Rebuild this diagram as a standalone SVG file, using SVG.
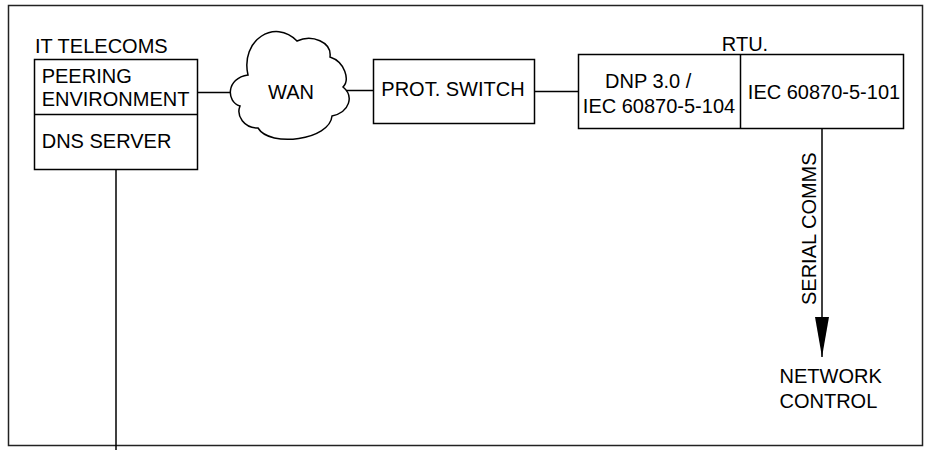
<svg xmlns="http://www.w3.org/2000/svg" width="926" height="450" viewBox="0 0 926 450">
<defs>
<style>
.t{font-family:"Liberation Sans",Arial,sans-serif;font-size:20px;fill:#000}
.b{fill:#fff;stroke:#000;stroke-width:1.5}
.l{fill:none;stroke:#000;stroke-width:1.5}
</style>
<marker id="ah" markerUnits="userSpaceOnUse" markerWidth="40" markerHeight="14" refX="40" refY="7" orient="auto" viewBox="0 0 40 14">
<path d="M0 0 L40 7 L0 14 Z" fill="#000"/>
</marker>
</defs>
<rect x="0" y="0" width="926" height="450" fill="#fff"/>
<rect x="8.5" y="5.5" width="914" height="440" fill="none" stroke="#222" stroke-width="1.5"/>
<g id="connectors">
<line class="l" x1="116" y1="169.5" x2="116" y2="450"/>
<line class="l" x1="197.5" y1="92.5" x2="232" y2="92.5"/>
<line class="l" x1="344" y1="90.5" x2="373.5" y2="90.5"/>
<line class="l" x1="534.5" y1="91.5" x2="578.5" y2="91.5"/>
<line class="l" x1="822" y1="128.5" x2="822" y2="357" marker-end="url(#ah)"/>
<text class="t" transform="translate(816 305) rotate(-90)">SERIAL COMMS</text>
</g>
<g id="it-telecoms">
<text class="t" x="35" y="52.7">IT TELECOMS</text>
<rect class="b" x="34.5" y="59.5" width="163" height="110"/>
<line class="l" x1="34.5" y1="114.5" x2="197.5" y2="114.5"/>
<text class="t" x="41.7" y="82.7">PEERING</text>
<text class="t" x="41.7" y="106">ENVIRONMENT</text>
<text class="t" x="41.7" y="147.7">DNS SERVER</text>
</g>
<g id="wan">
<path class="b" d="M248 75 C240 40 275 18 297 41 C312 34 332 42 330 57 C345 62 350 80 343 87 C354 96 350 112 332 116 C330 140 270 148 258 128 C244 128 236 116 240 106 C226 102 226 78 248 75 Z"/>
<text class="t" x="291" y="99" text-anchor="middle">WAN</text>
</g>
<g id="prot-switch">
<rect class="b" x="373.5" y="59.5" width="161" height="64"/>
<text class="t" x="453" y="96" text-anchor="middle">PROT. SWITCH</text>
</g>
<g id="rtu">
<text class="t" x="745" y="50.7" text-anchor="middle">RTU.</text>
<rect class="b" x="578.5" y="54.5" width="325" height="74"/>
<line class="l" x1="740.5" y1="54.5" x2="740.5" y2="128.5"/>
<text class="t" x="605" y="87.7">DNP 3.0 /</text>
<text class="t" x="659" y="113.3" text-anchor="middle">IEC 60870-5-104</text>
<text class="t" x="824" y="99.3" text-anchor="middle">IEC 60870-5-101</text>
</g>
<g id="network-control">
<text class="t" x="779.5" y="382.7">NETWORK</text>
<text class="t" x="779.5" y="407.7">CONTROL</text>
</g>
</svg>
